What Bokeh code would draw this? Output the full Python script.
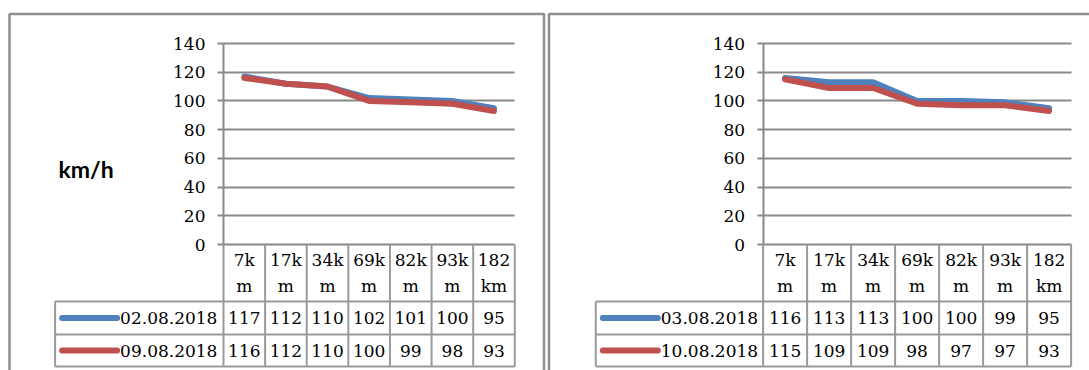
from bokeh.plotting import figure
from bokeh.models import Range1d, LinearAxis, FixedTicker, Grid
from bokeh.layouts import row
from bokeh.embed import file_html
from bokeh.resources import INLINE
from bokeh.core.properties import value

# ---- data -------------------------------------------------------------
categories = ["7km", "17km", "34km", "69km", "82km", "93km", "182km"]
category_labels = ["7k\nm", "17k\nm", "34k\nm", "69k\nm", "82k\nm", "93k\nm", "182\nkm"]
y_ticks = [0, 20, 40, 60, 80, 100, 120, 140]

week1_dates = ["02.08.2018", "09.08.2018"]
week1_first = [117, 112, 110, 102, 101, 100, 95]
week1_second = [116, 112, 110, 100, 99, 98, 93]

week2_dates = ["03.08.2018", "10.08.2018"]
week2_first = [116, 113, 113, 100, 100, 99, 95]
week2_second = [115, 109, 109, 98, 97, 97, 93]

unit_label = "km/h"

# ---- styling / layout (pixels) ---------------------------------------
BLUE = "#4F81BD"
RED = "#C0504D"
GRID_C = "#898989"
CELL_C = "#9a9a9a"
FRAME_C = "#8f8f8f"
SERIF = "DejaVu Serif"
UNIT_FONT = "Lato"
FS = "17px"
LINE_H = 1.27      # two-line category header

H = 370
Y_TOP_PX = 43      # pixel row of the highest tick
Y_ZERO_PX = 244    # pixel row of zero
ROW_BOTTOMS_PX = [301, 334, 366]   # header row, first series row, second series row
FRAME_TOP_PX = 13.5


def make_panel(width, axis_px, col_w, legend_left_px, frame_left_px, frame_right_px,
               dates, series, colors, show_unit):
    ymax = y_ticks[-1]
    k = ymax / (Y_ZERO_PX - Y_TOP_PX)

    def vy(py):
        return (Y_ZERO_PX - py) * k

    def vx(px):
        return (px - axis_px) / col_w

    n = len(categories)
    p = figure(width=width, height=H,
               x_range=Range1d(vx(0), vx(width)),
               y_range=Range1d(vy(H), vy(0)),
               toolbar_location=None, output_backend="svg",
               x_axis_location=None, y_axis_location=None,
               min_border=0, outline_line_color=None,
               background_fill_color="white", border_fill_color="white")
    for g in p.grid:
        g.visible = False

    # horizontal gridlines spanning only the category columns
    grid = Grid(dimension=1, ticker=FixedTicker(ticks=y_ticks),
                cross_bounds=(0, n), grid_line_color=GRID_C, grid_line_width=2)
    p.add_layout(grid)

    # value axis pinned to the left edge of the first column
    axis = LinearAxis(fixed_location=0, ticker=FixedTicker(ticks=y_ticks),
                      bounds=(0, ymax),
                      axis_line_color=GRID_C, axis_line_width=2,
                      major_tick_line_color=GRID_C, major_tick_line_width=2,
                      major_tick_out=6, major_tick_in=0,
                      minor_tick_out=0, minor_tick_in=0,
                      major_label_text_font=SERIF, major_label_text_font_size=FS,
                      major_label_text_color="black", major_label_standoff=12)
    p.add_layout(axis, "left")

    # series lines
    xs = [i + 0.5 for i in range(n)]
    for vals, col in zip(series, colors):
        p.line(xs, vals, line_color=col, line_width=6,
               line_join="round", line_cap="round")

    # data table below the plot
    y_hdr = vy(ROW_BOTTOMS_PX[0])
    y_r1 = vy(ROW_BOTTOMS_PX[1])
    y_r2 = vy(ROW_BOTTOMS_PX[2])
    x_leg = vx(legend_left_px)

    x0s, y0s, x1s, y1s = [], [], [], []
    for yb in (y_hdr, y_r1, y_r2):
        x0s.append(x_leg); x1s.append(n); y0s.append(yb); y1s.append(yb)
    for i in range(n + 1):
        x0s.append(i); x1s.append(i); y0s.append(0); y1s.append(y_r2)
    x0s.append(x_leg); x1s.append(x_leg); y0s.append(y_hdr); y1s.append(y_r2)
    p.segment(x0=x0s, y0=y0s, x1=x1s, y1=y1s, line_color=CELL_C, line_width=2)

    # category header (wrapped onto two lines)
    p.text(x=xs, y=[vy((Y_ZERO_PX + ROW_BOTTOMS_PX[0]) / 2)] * n, text=category_labels,
           text_font=value(SERIF), text_font_size=FS, text_color="black",
           text_align="center", text_baseline="middle", text_line_height=LINE_H)

    # value rows with legend keys
    row_tops = [ROW_BOTTOMS_PX[0], ROW_BOTTOMS_PX[1]]
    row_bots = [ROW_BOTTOMS_PX[1], ROW_BOTTOMS_PX[2]]
    for vals, col, name, t, b in zip(series, colors, dates, row_tops, row_bots):
        yc = vy((t + b) / 2)
        p.text(x=xs, y=[yc] * n, text=[str(v) for v in vals],
               text_font=value(SERIF), text_font_size=FS, text_color="black",
               text_align="center", text_baseline="middle")
        p.line([vx(legend_left_px + 7), vx(legend_left_px + 62)], [yc, yc],
               line_color=col, line_width=6, line_cap="round")
        p.text(x=[vx(legend_left_px + 65)], y=[yc], text=[name],
               text_font=value(SERIF), text_font_size=FS, text_color="black",
               text_align="left", text_baseline="middle")

    # unit caption
    if show_unit:
        p.text(x=[vx(58)], y=[vy(168)], text=[unit_label],
               text_font=value(UNIT_FONT), text_font_style="bold",
               text_font_size="23px", text_color="black",
               text_align="left", text_baseline="alphabetic")

    # chart frame
    ft = vy(FRAME_TOP_PX)
    fb = vy(H + 10)
    p.line([vx(frame_left_px), vx(frame_left_px), vx(frame_right_px), vx(frame_right_px)],
           [fb, ft, ft, fb], line_color=FRAME_C, line_width=2.5)
    return p


left = make_panel(546, 223, (514.3 - 223) / 7, 54.6, 9, 543.5,
                  week1_dates, [week1_first, week1_second], [BLUE, RED], True)
right = make_panel(543, 216.6, 44.0, 49.3, 2.5, 560,
                   week2_dates, [week2_first, week2_second], [BLUE, RED], False)

layout = row(left, right)
open("out.html", "w").write(file_html(layout, INLINE))
